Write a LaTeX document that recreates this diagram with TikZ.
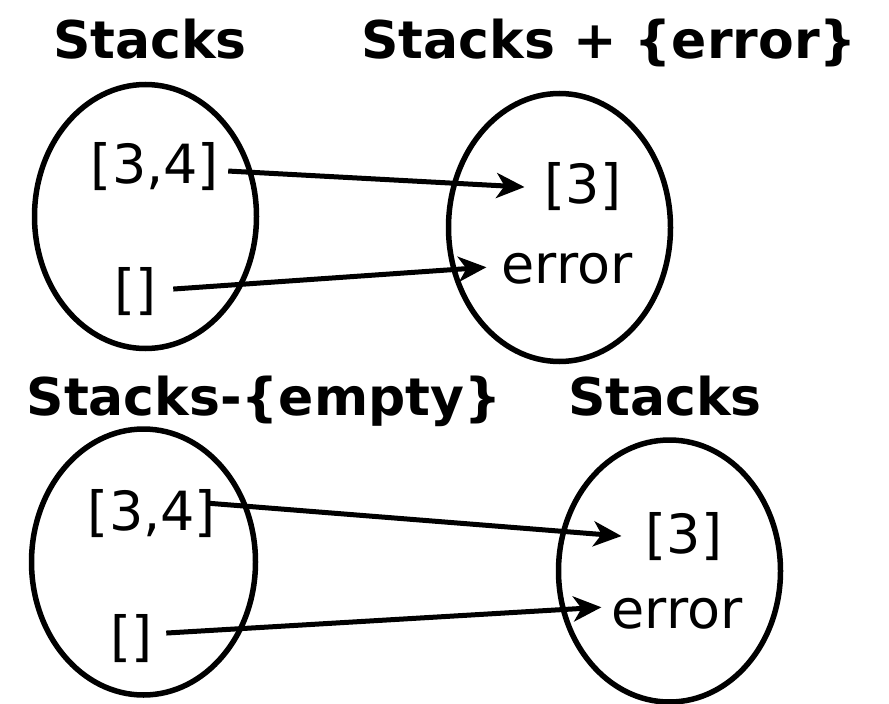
\documentclass[tikz,border=0pt]{standalone}
\usepackage{fontspec}
\setmainfont{DejaVu Sans}
\usetikzlibrary{arrows.meta,shapes.geometric,calc}
\tikzset{
  settitle/.style={anchor=base, inner sep=0pt, font=\fontsize{52}{60}\selectfont\bfseries},
  elem/.style={anchor=base, inner sep=0pt, font=\fontsize{54}{60}\selectfont},
  setoval/.style={draw, ellipse, line width=5.5pt, inner sep=0pt},
  maparrow/.style={line width=5pt, -{Stealth[length=28pt,width=25pt,inset=8pt]}}
}
\begin{document}
\begin{tikzpicture}[x=1pt,y=-1pt]
\useasboundingbox (0,0) rectangle (889,704);
% titles
\node[settitle] (t1) at (150,58) {Stacks};
\node[settitle] (t2) at (609,58) {Stacks + \{error\}};
\node[settitle] (t3) at (264,415) {Stacks-\{empty\}};
\node[settitle] (t4) at (665,415) {Stacks};
% ellipses
\node[setoval, minimum width=222pt, minimum height=264pt] (e1) at (145.5,216.5) {};
\node[setoval, minimum width=222pt, minimum height=268pt] (e2) at (559.5,227.5) {};
\node[setoval, minimum width=224pt, minimum height=266pt] (e3) at (143.5,562) {};
\node[setoval, minimum width=222pt, minimum height=262pt] (e4) at (669.5,571) {};
% elements
\node[elem] (a1) at (155,183) {[3,4]};
\node[elem] (b1) at (136,308) {[]};
\node[elem] (c1) at (583,203) {[3]};
\node[elem] (d1) at (567,283) {error};
\node[elem] (a2) at (152,530) {[3,4]};
\node[elem] (b2) at (132,655) {[]};
\node[elem] (c2) at (684,553) {[3]};
\node[elem] (d2) at (677,628) {error};
% arrows
\draw[maparrow] ($(a1.east)+(9,5)$) -- ($(c1.west)+(-20,1)$);
\draw[maparrow] ($(b1.east)+(16,-2)$) -- ($(d1.west)+(-15,-1)$);
\draw[maparrow] ($(a2.east)+(-10,-10)$) -- ($(c2.west)+(-24,0)$);
\draw[maparrow] ($(b2.east)+(13,-5)$) -- ($(d2.west)+(-10,-6)$);
\end{tikzpicture}
\end{document}
